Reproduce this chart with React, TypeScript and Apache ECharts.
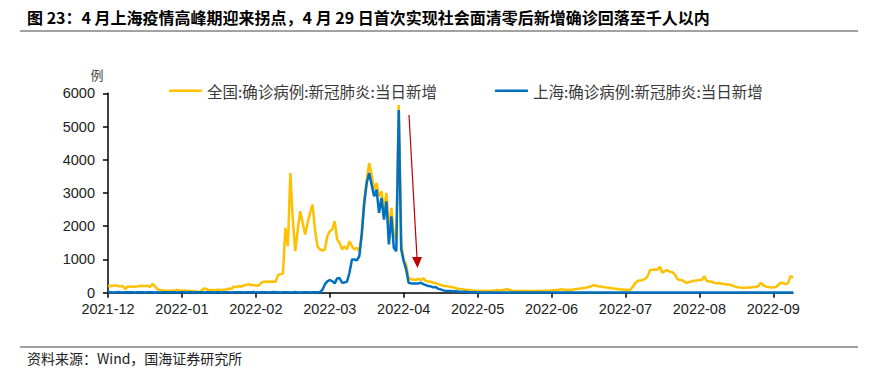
import React, { useEffect, useRef } from "react";
import * as echarts from "echarts";

const START_DATE = "2021-12-29";
const TICK_EVERY = 30;

const NATIONAL: number[] = [
  200, 210, 200, 230, 200, 190, 200, 110, 190, 180,
  180, 180, 190, 200, 210, 200, 210, 170, 260, 200,
  110, 80, 70, 60, 60, 60, 70, 60, 80, 70,
  60, 70, 60, 50, 40, 50, 30, 20, 60, 130,
  110, 70, 90, 70, 80, 90, 80, 90, 100, 120,
  110, 180, 170, 200, 180, 220, 230, 260, 230, 230,
  220, 210, 280, 330, 330, 330, 340, 330, 330, 530,
  560, 580, 1950, 1400, 3600, 2200, 1250, 1900, 2450, 2100,
  1750, 2100, 2400, 2650, 1900, 1400, 1300, 1270, 1300, 1700,
  1850, 1900, 2150, 1600, 1500, 1300, 1400, 1300, 1550, 1400,
  1300, 1350, 1250, 1700, 2800, 3400, 3900, 3550, 3100, 3300,
  2900, 3050, 2500, 3000, 1900, 2550, 1750, 1600, 5650, 1500,
  1000, 850, 450, 400, 400, 390, 420, 380, 430, 350,
  340, 330, 300, 290, 260, 230, 210, 200, 190, 180,
  160, 140, 120, 110, 100, 90, 80, 80, 70, 60,
  50, 55, 60, 60, 55, 60, 60, 70, 80, 70,
  80, 90, 110, 80, 60, 50, 50, 55, 50, 50,
  55, 50, 45, 50, 55, 60, 55, 60, 60, 60,
  70, 70, 80, 90, 100, 100, 80, 90, 80, 100,
  110, 120, 130, 140, 150, 170, 190, 230, 210, 190,
  190, 170, 160, 150, 140, 130, 120, 110, 100, 100,
  90, 80, 90, 180, 300, 350, 370, 380, 420, 500,
  680, 690, 700, 690, 780, 600, 650, 680, 630, 620,
  550, 420, 380, 380, 320, 300, 320, 350, 360, 370,
  380, 380, 500, 350, 340, 330, 300, 280, 290, 270,
  260, 250, 250, 230, 200, 170, 160, 150, 150, 150,
  160, 160, 170, 180, 200, 300, 220, 180, 170, 160,
  160, 170, 230, 300, 290, 260, 280, 500, 460,
];

const SHANGHAI: number[] = [
  10, 15, 5, 10, 20, 10, 5, 10, 15, 10,
  10, 5, 10, 15, 10, 5, 10, 15, 10, 5,
  10, 5, 10, 15, 10, 5, 10, 10, 5, 10,
  15, 10, 5, 10, 10, 5, 10, 15, 10, 5,
  10, 15, 10, 5, 10, 10, 5, 10, 15, 10,
  5, 10, 10, 15, 10, 5, 10, 10, 15, 20,
  10, 5, 10, 15, 10, 5, 10, 20, 15, 10,
  5, 10, 15, 10, 5, 10, 20, 10, 5, 10,
  15, 10, 5, 10, 15, 10, 20, 80, 250, 340,
  380, 350, 280, 430, 440, 300, 310, 330, 600, 1000,
  1000, 970, 1100, 1800, 2700, 3300, 3600, 3250, 2900, 3100,
  2400, 2850, 2200, 2750, 1450, 2300, 1350, 1250, 5500, 1300,
  950, 700, 300, 280, 280, 280, 280, 300, 260, 230,
  200, 190, 160, 170, 120, 100, 70, 60, 55, 50,
  45, 40, 35, 30, 30, 25, 20, 15, 10, 10,
  8, 5, 6, 4, 8, 5, 3, 6, 8, 5,
  4, 6, 5, 8, 6, 3, 5, 7, 4, 6,
  5, 8, 6, 4, 5, 7, 3, 6, 5, 8,
  6, 5, 4, 7, 5, 6, 8, 4, 5, 6,
  7, 5, 4, 6, 8, 5, 3, 6, 5, 7,
  4, 6, 8, 5, 6, 4, 5, 7, 6, 5,
  8, 6, 5, 4, 7, 5, 6, 4, 8, 5,
  6, 7, 5, 4, 6, 8, 5, 6, 4, 7,
  5, 6, 8, 4, 5, 6, 7, 5, 4, 6,
  8, 5, 6, 4, 7, 5, 6, 8, 5, 4,
  6, 7, 5, 6, 4, 8, 5, 6, 7, 5,
  4, 6, 5, 8, 6, 5, 7, 4, 6, 5,
  6, 5, 7, 4, 6, 8, 5, 6, 5,
];

const SERIES_NAMES = [
  "全国:确诊病例:新冠肺炎:当日新增",
  "上海:确诊病例:新冠肺炎:当日新增",
];
const TITLE =
  "图 23：4 月上海疫情高峰期迎来拐点，4 月 29 日首次实现社会面清零后新增确诊回落至千人以内";
const SOURCE = "资料来源：Wind，国海证券研究所";
const UNIT = "例";

function buildDates(start: string, n: number): string[] {
  const d0 = new Date(start + "T00:00:00Z").getTime();
  const out: string[] = [];
  for (let i = 0; i < n; i++) {
    out.push(new Date(d0 + i * 86400000).toISOString().slice(0, 10));
  }
  return out;
}

const DATES = buildDates(START_DATE, NATIONAL.length);

export default function App() {
  const ref = useRef<HTMLDivElement>(null);
  useEffect(() => {
    if (!ref.current) return;
    const chart = echarts.init(ref.current, undefined, { renderer: "svg" });
    const CJK = '"Noto Sans CJK SC", "Noto Sans", sans-serif';
    const LAT = '"Liberation Sans", Arial, sans-serif';
    chart.setOption({
      animation: false,
      backgroundColor: "#fff",
      grid: { left: 108, right: 82, top: 93.3, bottom: 85.3, containLabel: false },
      legend: {
        left: 164,
        top: 78,
        icon: "rect",
        itemWidth: 33,
        itemHeight: 2.5,
        itemGap: 58,
        textStyle: { fontFamily: CJK, fontSize: 15.5, color: "#3a3a3a" },
        data: SERIES_NAMES,
      },
      xAxis: {
        type: "category",
        data: DATES,
        boundaryGap: false,
        axisLine: { lineStyle: { color: "#000", width: 1.5 } },
        axisTick: {
          interval: (i: number) => i % TICK_EVERY === 0,
          length: 5,
          lineStyle: { color: "#000", width: 1.5 },
        },
        axisLabel: {
          interval: (i: number) => i % TICK_EVERY === 0,
          formatter: (v: string) => v.slice(0, 7),
          margin: 9,
          fontSize: 14.5,
          fontFamily: LAT,
          color: "#222",
        },
        splitLine: { show: false },
      },
      yAxis: {
        type: "value",
        min: 0,
        max: 6000,
        interval: 1000,
        axisLine: { show: true, lineStyle: { color: "#000", width: 1.5 } },
        axisTick: { show: true, length: 5, lineStyle: { color: "#000", width: 1.5 } },
        axisLabel: {
          margin: 13,
          fontSize: 14.5,
          fontFamily: LAT,
          color: "#222",
          formatter: (v: number) => String(v),
        },
        splitLine: { show: false },
      },
      series: [
        {
          name: SERIES_NAMES[0],
          type: "line",
          data: NATIONAL,
          showSymbol: false,
          symbol: "none",
          color: "#FFC000",
          lineStyle: { color: "#FFC000", width: 2.5 },
          z: 2,
        },
        {
          name: SERIES_NAMES[1],
          type: "line",
          data: SHANGHAI,
          showSymbol: false,
          symbol: "none",
          color: "#0070C0",
          lineStyle: { color: "#0070C0", width: 2.5 },
          z: 3,
        },
      ],
      graphic: [
        {
          type: "text",
          left: 27,
          top: 9,
          style: { text: TITLE, font: `bold 16px ${CJK}`, fill: "#000" },
        },
        {
          type: "line",
          shape: { x1: 20, y1: 31, x2: 858, y2: 31 },
          style: { stroke: "#444", lineWidth: 1 },
        },
        {
          type: "text",
          x: 97,
          y: 74,
          style: {
            text: UNIT,
            font: `13px ${CJK}`,
            fill: "#444",
            textAlign: "center",
            textVerticalAlign: "middle",
          },
        },
        {
          type: "line",
          shape: { x1: 409, y1: 115, x2: 417, y2: 258 },
          style: { stroke: "#C00000", lineWidth: 1.2 },
        },
        {
          type: "polygon",
          shape: { points: [[412, 257], [422, 257], [417.5, 268]] },
          style: { fill: "#C00000" },
        },
        {
          type: "line",
          shape: { x1: 20, y1: 347, x2: 858, y2: 347 },
          style: { stroke: "#444", lineWidth: 1 },
        },
        {
          type: "text",
          x: 27,
          y: 358,
          style: {
            text: SOURCE,
            font: `14px ${CJK}`,
            fill: "#222",
            textVerticalAlign: "middle",
          },
        },
      ],
    });
    return () => chart.dispose();
  }, []);
  return (
    <div
      ref={ref}
      style={{ position: "fixed", left: 0, top: 0, width: 875, height: 378 }}
    />
  );
}
